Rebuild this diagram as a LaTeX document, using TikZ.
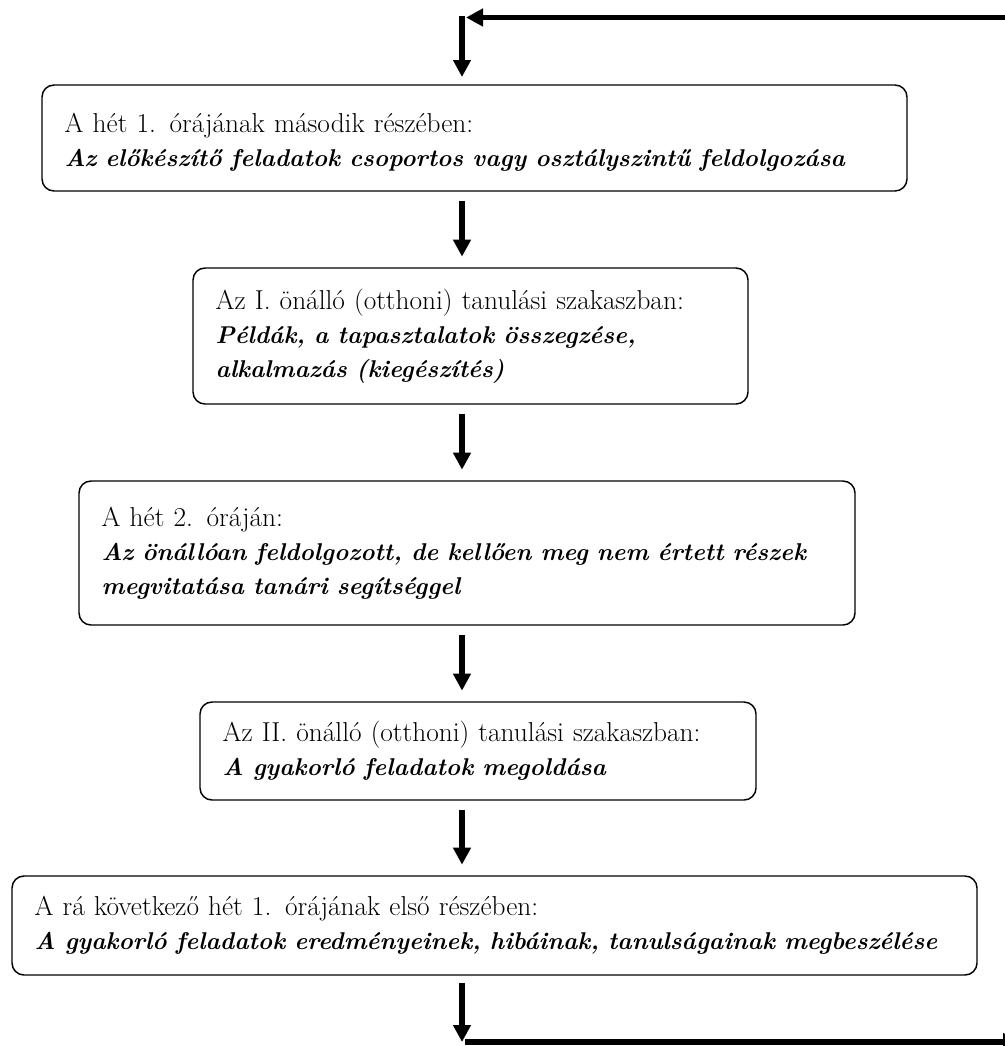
\documentclass[tikz,border=0pt]{standalone}
\usetikzlibrary{arrows.meta}

\tikzset{
	stage/.style={draw, line width=1.1pt, rounded corners=9pt, anchor=north west, align=left,
		inner xsep=17pt, inner ysep=0pt, outer sep=0pt, font=\fontsize{20.5}{25.5}\selectfont},
	lift/.style={text depth=23pt},
	flow/.style={line width=4pt, -{Triangle[length=12.75pt,width=12.75pt]}},
	gap/.style={shorten <=7.5pt, shorten >=8.5pt}
}
\newcommand{\kiemel}[1]{{\fontsize{18.2}{25.5}\selectfont\textbf{\textit{#1}}}}

\begin{document}
\begin{tikzpicture}[x=0.75pt,y=0.75pt,yscale=-1,xscale=1]
	\clip (0,0) rectangle (1005,1046);
	
	% boxes
	\node[stage, lift, text width=614.75pt, minimum height=79.5pt] (ora1) at (42,85)
		{A hét 1. órájának második részében:\\ \kiemel{Az előkészítő feladatok csoportos vagy osztályszintű feldolgozása}};
	\node[stage, text width=382.25pt, minimum height=102pt] (otthon1) at (193,268)
		{Az I. önálló (otthoni) tanulási szakaszban:\\ \kiemel{Példák, a tapasztalatok összegzése,}\\ \kiemel{alkalmazás (kiegészítés)}};
	\node[stage, text width=548pt, minimum height=108pt] (ora2) at (79,481)
		{A hét 2. óráján:\\ \kiemel{Az önállóan feldolgozott, de kellően meg nem értett részek}\\ \kiemel{megvitatása tanári segítséggel}};
	\node[stage, text width=383pt, minimum height=73.5pt] (otthon2) at (200,702)
		{Az II. önálló (otthoni) tanulási szakaszban:\\ \kiemel{A gyakorló feladatok megoldása}};
	\node[stage, text width=689.75pt, minimum height=74.25pt] (kovhet) at (12,876)
		{A rá következő hét 1. órájának első részében:\\ \kiemel{A gyakorló feladatok eredményeinek, hibáinak, tanulságainak megbeszélése}};
	
	% loop coordinates
	\coordinate (spine) at (462,0);
	\coordinate (loopin) at (1010,17.5);
	\coordinate (topin) at (466,17.5);
	\coordinate (topcorner) at (462,16);
	\coordinate (botcorner) at (462,1042);
	\coordinate (botstart) at (465,1042);
	\coordinate (loopout) at (1020,1042);
	
	% arrows
	\draw[flow] (loopin) -- (topin);
	\draw[flow, shorten >=6pt] (topcorner) -- (ora1.north -| spine);
	\draw[flow, gap] (ora1.south -| spine) -- (otthon1.north -| spine);
	\draw[flow, gap] (otthon1.south -| spine) -- (ora2.north -| spine);
	\draw[flow, gap] (ora2.south -| spine) -- (otthon2.north -| spine);
	\draw[flow, gap] (otthon2.south -| spine) -- (kovhet.north -| spine);
	\draw[flow, shorten <=6pt] (kovhet.south -| spine) -- (botcorner);
	\draw[flow] (botstart) -- (loopout);
\end{tikzpicture}
\end{document}
